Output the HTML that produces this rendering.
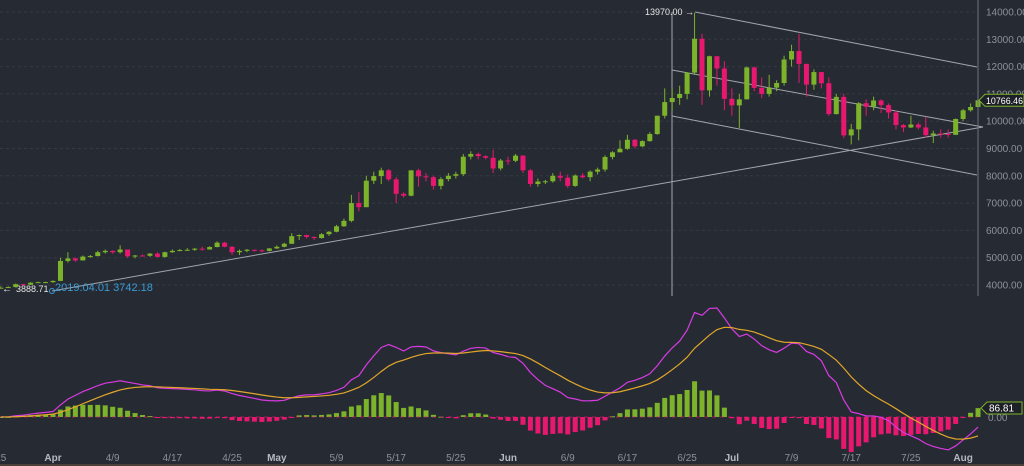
<!DOCTYPE html>
<html><head><meta charset="utf-8">
<style>
html,body{margin:0;padding:0;background:#262b33;}
svg{display:block;font-family:"Liberation Sans",sans-serif;}
</style></head>
<body>
<svg id="chart" width="1024" height="466" viewBox="0 0 1024 466">
<rect x="0" y="0" width="1024" height="466" fill="#262b33"/>
<g id="grid"></g>
<g id="drawings"></g>
<g id="candles"></g>
<g id="macd"></g>
<g id="axes"></g>
</svg>
<script>
const closes=[3900,3925,4030,4010,4085,4105,4105,
4150,4880,4975,4900,5040,5060,5200,5250,5200,5300,5050,5080,5070,5150,5030,5200,5250,5280,5290,5330,5300,5390,5550,5400,5200,5250,5290,5270,5250,5340,
5400,5510,5790,5830,5760,5720,5860,5950,6150,6350,7000,6850,7820,7990,8200,7870,7340,7270,8200,7980,7950,7630,7880,8000,8060,8700,8800,8720,8660,8270,8560,
8550,8740,8200,7700,7790,7800,8000,7930,7630,8010,7950,8150,8230,8690,8860,8990,9320,9080,9270,9530,10200,10700,10850,11000,11780,13020,11130,12380,11930,10820,
10580,10800,11970,11220,11000,11230,11400,12260,12570,12100,11340,11800,11390,10260,10890,9480,9700,10660,10530,10760,10590,10320,9860,9770,9880,9770,9490,9550,9530,9500,10080,
10400,10520,10766.46];
const highs=[3950,3950,4050,4040,4100,4120,4120,
4170,5000,5200,5000,5080,5100,5250,5300,5270,5450,5300,5100,5120,5170,5200,5220,5300,5320,5350,5360,5400,5420,5600,5580,5420,5300,5320,5300,5300,5350,
5450,5550,5900,5850,5840,5780,5900,5980,6200,6430,7300,7400,8000,8150,8300,8250,7950,7400,8200,8260,8100,8000,7950,8100,8150,8800,8900,8850,8750,8950,8620,
8700,8800,8750,8250,7900,7850,8100,8150,8050,8050,8100,8200,8300,8750,8900,9300,9500,9350,9300,9600,10200,11200,11200,11300,11800,13970,13200,12400,12300,12200,
11200,11000,12000,12000,11600,11700,11500,12400,12800,13200,12100,11900,11800,11600,11000,11000,9900,10700,10800,10900,10800,10650,10400,9900,10200,9950,10150,9650,9700,9700,10100,
10450,10650,10800];
const lows=[3880,3890,3910,3990,4000,4080,4080,
4080,4140,4820,4850,4900,5000,5050,5150,5150,5150,5000,4980,5050,5030,5010,5000,5180,5240,5260,5250,5260,5300,5380,5380,5100,5100,5200,5220,5200,5230,
5320,5380,5500,5650,5700,5650,5700,5800,5930,6130,6300,6700,6850,7700,7700,7800,7000,7200,7250,7600,7800,7500,7500,7800,7900,8000,8600,8600,8600,8100,8200,
8400,8500,8100,7600,7600,7700,7750,7800,7550,7600,7900,7800,8050,8150,8600,8900,8950,9000,9050,9250,9500,10100,10400,10600,10800,11700,10600,10900,11300,10400,
10200,9750,10800,11100,10850,10900,11100,11300,12000,11400,10900,11150,11200,10200,10250,9380,9150,9300,10200,10400,10300,10100,9700,9600,9750,9700,9400,9200,9400,9400,9500,
10000,10350,10500];
const firstOpen=3880;
const priceTicks=[4000,5000,6000,7000,8000,9000,10000,11000,12000,13000,14000];
const dateTickIdx=[0,7,15,23,31,37,45,53,61,68,76,84,92,98,106,114,122,129];
const dateTickLbl=["25","Apr","4/9","4/17","4/25","May","5/9","5/17","5/25","Jun","6/9","6/17","6/25","Jul","7/9","7/17","7/25","Aug"];

const NS="http://www.w3.org/2000/svg";
function X(i){return 53+(i-7)*7.46;}
function Y(p){return 12+(14000-p)*0.0273;}
const ZERO=417;
function mk(tag,attrs,parent){const e=document.createElementNS(NS,tag);for(const k in attrs)e.setAttribute(k,attrs[k]);parent.appendChild(e);return e;}
const G=document.getElementById('grid'),D=document.getElementById('drawings'),C=document.getElementById('candles'),M=document.getElementById('macd'),A=document.getElementById('axes');

priceTicks.forEach(p=>{
  const l=mk('line',{x1:0,x2:978,y1:Y(p),y2:Y(p),stroke:'#353a43','stroke-dasharray':'3,3'},G);
  
  
  const t=mk('text',{x:986,y:Y(p)+3.5,fill:'#8c9199','font-size':'10'},A);
  t.textContent=p.toFixed(2);
  
  
});
const ax=mk('line',{x1:978,x2:978,y1:0,y2:296,stroke:'#6e737b'},A);


dateTickIdx.forEach((idx,k)=>{
  const isMonth=/^[A-Z]/.test(dateTickLbl[k]);
  const t=mk('text',{x:X(idx),y:461,fill:isMonth?'#b5b9c0':'#8c9199','font-size':'10','text-anchor':'middle','font-weight':isMonth?'bold':'normal'},A);
  t.textContent=dateTickLbl[k];
  
  
});
const bb=mk('rect',{x:0,y:464,width:1024,height:2,fill:'#4a4238'},A);



const dl=[[52,291,983,127],[695,12,977,67],[672,70,983,127],[672,116,977,175]];
dl.forEach(d=>{
  const l=mk('line',{x1:d[0],y1:d[1],x2:d[2],y2:d[3],stroke:'#a3a6ab','stroke-width':'1'},D);
  
  
});
const vl=mk('line',{x1:672,x2:672,y1:12,y2:296,stroke:'#a3a6ab'},D);


const c0=mk('circle',{cx:52,cy:291,r:2.5,fill:'none',stroke:'#3a9bd6'},D);


const t1=mk('text',{x:55,y:291,fill:'#3a9bd6','font-size':'11'},D);t1.textContent='2019.04.01 3742.18';


const t2=mk('text',{x:16,y:292,fill:'#e6e6e6','font-size':'9'},D);t2.textContent='3888.71';


const t2a=mk('text',{x:2,y:292,fill:'#ffffff','font-size':'10'},D);t2a.textContent='←';


const t3=mk('text',{x:645,y:15,fill:'#e6e6e6','font-size':'9'},D);t3.textContent='13970.00 →';



const GREEN='#7cb32a',RED='#e8176f';
closes.forEach((c,i)=>{
  const o=i==0?firstOpen:closes[i-1];
  const col=c>=o?GREEN:RED;
  const x=X(i);
  const w=mk('line',{x1:x,x2:x,y1:Y(highs[i]),y2:Y(lows[i]),stroke:col,'stroke-width':'1'},C);
  
  
  const top=Y(Math.max(o,c)),bot=Y(Math.min(o,c));
  const r=mk('rect',{x:x-2.5,y:top,width:5,height:Math.max(1,bot-top),fill:col},C);
  
  
});
const lp=closes[closes.length-1];
const tag=mk('path',{d:`M979 ${Y(lp)} l6 -6 h39 v12 h-39 z`,fill:'#1d2127',stroke:'#7cb32a'},A);


const tt=mk('text',{x:986,y:Y(lp)+3.5,fill:'#ffffff','font-size':'9.5','textLength':'37','lengthAdjust':'spacingAndGlyphs'},A);tt.textContent=lp.toFixed(2);



function ema(arr,n){const k=2/(n+1);const out=[];let e=arr[0];arr.forEach((v,i)=>{e=i==0?v:v*k+e*(1-k);out.push(e);});return out;}
const e12=ema(closes,12),e26=ema(closes,26);
const macd=e12.map((v,i)=>v-e26[i]);
const sig=ema(macd,9);
const hist=macd.map((v,i)=>v-sig[i]);
const K=109/Math.max(...macd);
hist.forEach((h,i)=>{
  const y=ZERO-h*K*1.0;
  const r=mk('rect',{x:X(i)-2.5,y:Math.min(y,ZERO),width:5,height:Math.max(1,Math.abs(y-ZERO)),fill:h>=0?GREEN:RED},M);
  
  
});
const zl=mk('line',{x1:0,x2:978,y1:ZERO,y2:ZERO,stroke:'#e8176f','stroke-dasharray':'4,4','stroke-width':'1',opacity:'0.6'},M);


const pm=mk('polyline',{points:macd.map((v,i)=>X(i)+','+(ZERO-v*K)).join(' '),fill:'none',stroke:'#d93ae3','stroke-width':'1.2'},M);


const ps=mk('polyline',{points:sig.map((v,i)=>X(i)+','+(ZERO-v*K)).join(' '),fill:'none',stroke:'#e2a62a','stroke-width':'1.2'},M);


const zt=mk('text',{x:988,y:ZERO+4,fill:'#8c9199','font-size':'10'},A);zt.textContent='0.00';


const htag=mk('path',{d:`M981 408 l6 -6 h35 v12 h-35 z`,fill:'#1d2127',stroke:'#7cb32a'},A);


const ht=mk('text',{x:989,y:411.5,fill:'#ffffff','font-size':'10'},A);ht.textContent='86.81';


</script>
</body></html>
